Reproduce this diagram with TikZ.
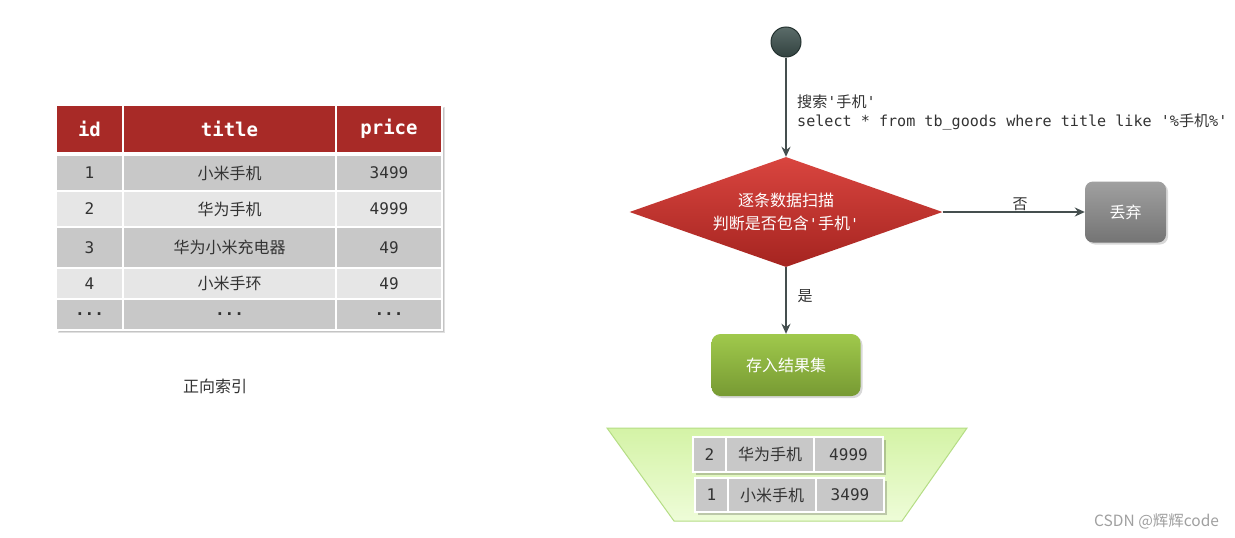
\documentclass[tikz,border=0pt]{standalone}
\usepackage{fontspec}
\setmainfont{Noto Sans CJK SC}
\newfontfamily\monof{DejaVu Sans Mono}
\usetikzlibrary{shadows,arrows.meta,shapes.geometric}
\definecolor{hdr}{HTML}{A82A27}
\definecolor{rowA}{HTML}{C8C8C8}
\definecolor{rowB}{HTML}{E6E6E6}
\definecolor{arrowc}{HTML}{454F4F}
\definecolor{txtc}{HTML}{333333}
\definecolor{circf}{HTML}{3E524F}
\definecolor{circd}{HTML}{243230}
\definecolor{dtop}{HTML}{D9453F}
\definecolor{dbot}{HTML}{A52420}
\definecolor{gtop}{HTML}{A0C94C}
\definecolor{gbot}{HTML}{779A33}
\definecolor{ytop}{HTML}{A0A0A0}
\definecolor{ybot}{HTML}{747474}
\definecolor{ttop}{HTML}{D4F3A6}
\definecolor{tbot}{HTML}{EEFCD8}
\definecolor{tbord}{HTML}{B5DD85}
\tikzset{
  cellbox/.style={draw=white, line width=1.5pt, inner sep=0pt, text=txtc, font=\fontsize{16}{19}\selectfont},
  hdrbox/.style={cellbox, fill=hdr, text=white, font=\monof\bfseries\fontsize{19}{22}\selectfont},
  flowarrow/.style={draw=arrowc, line width=2pt, -{Stealth[length=10pt,width=9pt]}},
  shad/.style={drop shadow={opacity=0.3, shadow xshift=2pt, shadow yshift=-2pt}},
  lbl/.style={text=txtc, font=\fontsize{15}{18}\selectfont, inner sep=0pt},
}
\newcommand{\dg}[1]{{\monof #1}}
\begin{document}
\begin{tikzpicture}[x=1pt,y=-1pt]
\useasboundingbox[fill=white] (0,0) rectangle (1235,538);

% ---------- left table ----------
\fill[black, opacity=0.12] (58,107) rectangle (445,333);
\fill[black, opacity=0.12] (59,108) rectangle (444,332);
\node[hdrbox, fill=hdr, minimum width=67pt, minimum height=48pt] (h1) at (89.5,129) {id};
\node[hdrbox, minimum width=213pt, minimum height=48pt] (h2) at (229.5,129) {title};
\node[hdrbox, minimum width=106pt, minimum height=48pt] (h3) at (389,129) {price};
% row 1
\node[cellbox, fill=rowA, minimum width=67pt, minimum height=36pt] (a1) at (89.5,173) {\dg{1}};
\node[cellbox, fill=rowA, minimum width=213pt, minimum height=36pt] (a2) at (229.5,173) {小米手机};
\node[cellbox, fill=rowA, minimum width=106pt, minimum height=36pt] (a3) at (389,173) {\dg{3499}};
% row 2
\node[cellbox, fill=rowB, minimum width=67pt, minimum height=36pt] (b1) at (89.5,209) {\dg{2}};
\node[cellbox, fill=rowB, minimum width=213pt, minimum height=36pt] (b2) at (229.5,209) {华为手机};
\node[cellbox, fill=rowB, minimum width=106pt, minimum height=36pt] (b3) at (389,209) {\dg{4999}};
% row 3
\node[cellbox, fill=rowA, minimum width=67pt, minimum height=41pt] (c1) at (89.5,247.5) {\dg{3}};
\node[cellbox, fill=rowA, minimum width=213pt, minimum height=41pt] (c2) at (229.5,247.5) {华为小米充电器};
\node[cellbox, fill=rowA, minimum width=106pt, minimum height=41pt] (c3) at (389,247.5) {\dg{49}};
% row 4
\node[cellbox, fill=rowB, minimum width=67pt, minimum height=31pt] (d1) at (89.5,283.5) {\dg{4}};
\node[cellbox, fill=rowB, minimum width=213pt, minimum height=31pt] (d2) at (229.5,283.5) {小米手环};
\node[cellbox, fill=rowB, minimum width=106pt, minimum height=31pt] (d3) at (389,283.5) {\dg{49}};
% row 5
\node[cellbox, fill=rowA, minimum width=67pt, minimum height=31pt] (e1) at (89.5,314.5) {\dg{\bfseries...}};
\node[cellbox, fill=rowA, minimum width=213pt, minimum height=31pt] (e2) at (229.5,314.5) {\dg{\bfseries...}};
\node[cellbox, fill=rowA, minimum width=106pt, minimum height=31pt] (e3) at (389,314.5) {\dg{\bfseries...}};

\node[lbl, font=\fontsize{16}{19}\selectfont] (fwd) at (215,386) {正向索引};

% ---------- flow ----------
\node[circle, draw=circd, line width=1pt, top color=circf!85!white, bottom color=circf!80!black, minimum size=30pt, inner sep=0pt] (start) at (786,42) {};
\node[diamond, aspect=2.85, minimum width=313pt, minimum height=110pt, inner sep=0pt,
      top color=dtop, bottom color=dbot, text=white, align=center,
      font=\fontsize{16}{23}\selectfont] (judge) at (786,212)
      {逐条数据扫描\\判断是否包含{\monof\fontsize{15}{18}\selectfont'}手机{\monof\fontsize{15}{18}\selectfont'}};
\node[rounded corners=8pt, minimum width=81pt, minimum height=61pt, inner sep=0pt,
      top color=ytop, bottom color=ybot, text=white, shad,
      font=\fontsize{16}{19}\selectfont] (drop) at (1125.5,212) {丢弃};
\node[rounded corners=9pt, minimum width=149pt, minimum height=62pt, inner sep=0pt,
      top color=gtop, bottom color=gbot, text=white, shad,
      font=\fontsize{16}{19}\selectfont] (store) at (786,365) {存入结果集};

\draw[flowarrow] (start.south) -- (judge.north);
\draw[flowarrow] (judge.east) -- (drop.west);
\draw[flowarrow] (judge.south) -- (store.north);

\node[lbl, anchor=west, align=left, font=\monof\fontsize{15.1}{19}\selectfont] (sql) at (797,112.5)
  {{\rmfamily 搜索}'{\rmfamily 手机}'\\select * from tb\_goods where title like '\%{\rmfamily 手机}\%'};
\node[lbl] (no) at (1020,204) {否};
\node[lbl] (yes) at (805,296) {是};

% ---------- result set ----------
\path[top color=ttop, bottom color=tbot, draw=tbord, line width=1pt]
  (607,428) -- (967,428) -- (902,521) -- (674,521) -- cycle;
\fill[black, opacity=0.2] (696,440) rectangle (886,475);
\node[cellbox, fill=rowA, minimum width=33pt, minimum height=35pt] (r11) at (709.5,454.5) {\dg{2}};
\node[cellbox, fill=rowA, minimum width=88pt, minimum height=35pt] (r12) at (770,454.5) {华为手机};
\node[cellbox, fill=rowA, minimum width=69pt, minimum height=35pt] (r13) at (848.5,454.5) {\dg{4999}};
\fill[black, opacity=0.2] (698,481) rectangle (887,515);
\node[cellbox, fill=rowA, minimum width=33pt, minimum height=34pt] (r21) at (711.5,495) {\dg{1}};
\node[cellbox, fill=rowA, minimum width=88pt, minimum height=34pt] (r22) at (772,495) {小米手机};
\node[cellbox, fill=rowA, minimum width=68pt, minimum height=34pt] (r23) at (850,495) {\dg{3499}};

% watermark
\node[anchor=west, inner sep=0pt, text=ytop, font=\fontsize{15.5}{18}\selectfont] (wm) at (1094,521) {CSDN @辉辉code};
\end{tikzpicture}
\end{document}
